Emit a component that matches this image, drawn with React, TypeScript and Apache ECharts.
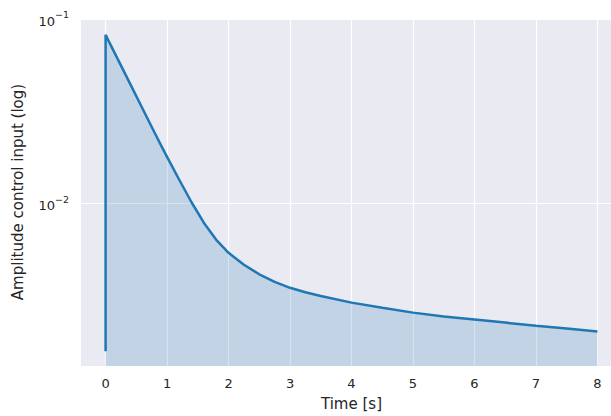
import React, { useEffect, useRef } from 'react';
import * as echarts from 'echarts';

// Time axis (s) and amplitude control input values
const timeS = [0, 0, 0.2, 0.4, 0.6, 0.8, 0.9, 1.0, 1.2, 1.4, 1.6, 1.8, 2.0, 2.25, 2.5, 2.75, 3.0, 3.25, 3.5, 4.0, 4.5, 5.0, 5.5, 6.0, 6.5, 7.0, 7.5, 8.0];
const amplitude = [0.00158, 0.082, 0.0604, 0.0445, 0.0327, 0.0241, 0.02071, 0.01788, 0.0134, 0.01012, 0.00784, 0.00635, 0.0054, 0.00465, 0.00413, 0.00376, 0.00349, 0.0033, 0.00315, 0.0029, 0.00272, 0.00256, 0.00244, 0.00235, 0.00226, 0.00217, 0.0021, 0.00202];
const xTicks = [0, 1, 2, 3, 4, 5, 6, 7, 8];

const TEXT = '#262626';
const FONT = 'DejaVu Sans';

export default function App() {
  const ref = useRef<HTMLDivElement>(null);
  useEffect(() => {
    document.body.style.overflow = 'hidden';
    const chart = echarts.init(ref.current!, null, { renderer: 'svg' });
    const data = timeS.map((t, i) => [t, amplitude[i]]);
    chart.setOption({
      animation: false,
      textStyle: { fontFamily: FONT },
      grid: { left: 81, top: 18, right: 0, bottom: 49, show: true, backgroundColor: '#EAEAF2', borderWidth: 0 },
      xAxis: {
        type: 'value',
        min: -0.4,
        max: 8.4,
        name: 'Time [s]',
        nameLocation: 'middle',
        nameGap: 30,
        nameTextStyle: { fontSize: 15, color: TEXT, fontFamily: FONT },
        axisLine: { show: false },
        axisTick: { show: false, customValues: xTicks },
        axisLabel: { customValues: xTicks, fontSize: 13, color: TEXT, margin: 11, fontFamily: FONT },
        splitLine: { show: true, lineStyle: { color: '#ffffff', width: 1.2 } },
      },
      yAxis: {
        type: 'log',
        logBase: 10,
        min: 0.001315,
        max: 0.1012,
        name: 'Amplitude control input (log)',
        nameLocation: 'middle',
        nameGap: 56,
        nameTextStyle: { fontSize: 15, color: TEXT, fontFamily: FONT },
        axisLine: { show: false },
        axisTick: { show: false },
        axisLabel: {
          showMinLabel: false,
          showMaxLabel: false,
          margin: 12,
          formatter: (v: number) => {
            const e = Math.round(Math.log10(v));
            return '{b|10}{s|' + (e < 0 ? '\u2212' : '') + Math.abs(e) + '}';
          },
          rich: {
            b: { fontSize: 13, color: TEXT, fontFamily: FONT, lineHeight: 18, verticalAlign: 'bottom' },
            s: { fontSize: 9.5, color: TEXT, fontFamily: FONT, lineHeight: 10, verticalAlign: 'top' },
          },
        },
        splitLine: { show: true, lineStyle: { color: '#ffffff', width: 1.2 } },
      },
      series: [
        {
          type: 'line',
          data,
          showSymbol: false,
          symbol: 'none',
          lineStyle: { color: '#1f77b4', width: 2.5 },
          itemStyle: { color: '#1f77b4' },
          areaStyle: { color: '#1f77b4', opacity: 0.2, origin: 'start' },
        },
      ],
    });
    return () => chart.dispose();
  }, []);
  return <div ref={ref} style={{ position: 'fixed', left: 0, top: 0, width: 622, height: 416, background: '#ffffff' }} />;
}
